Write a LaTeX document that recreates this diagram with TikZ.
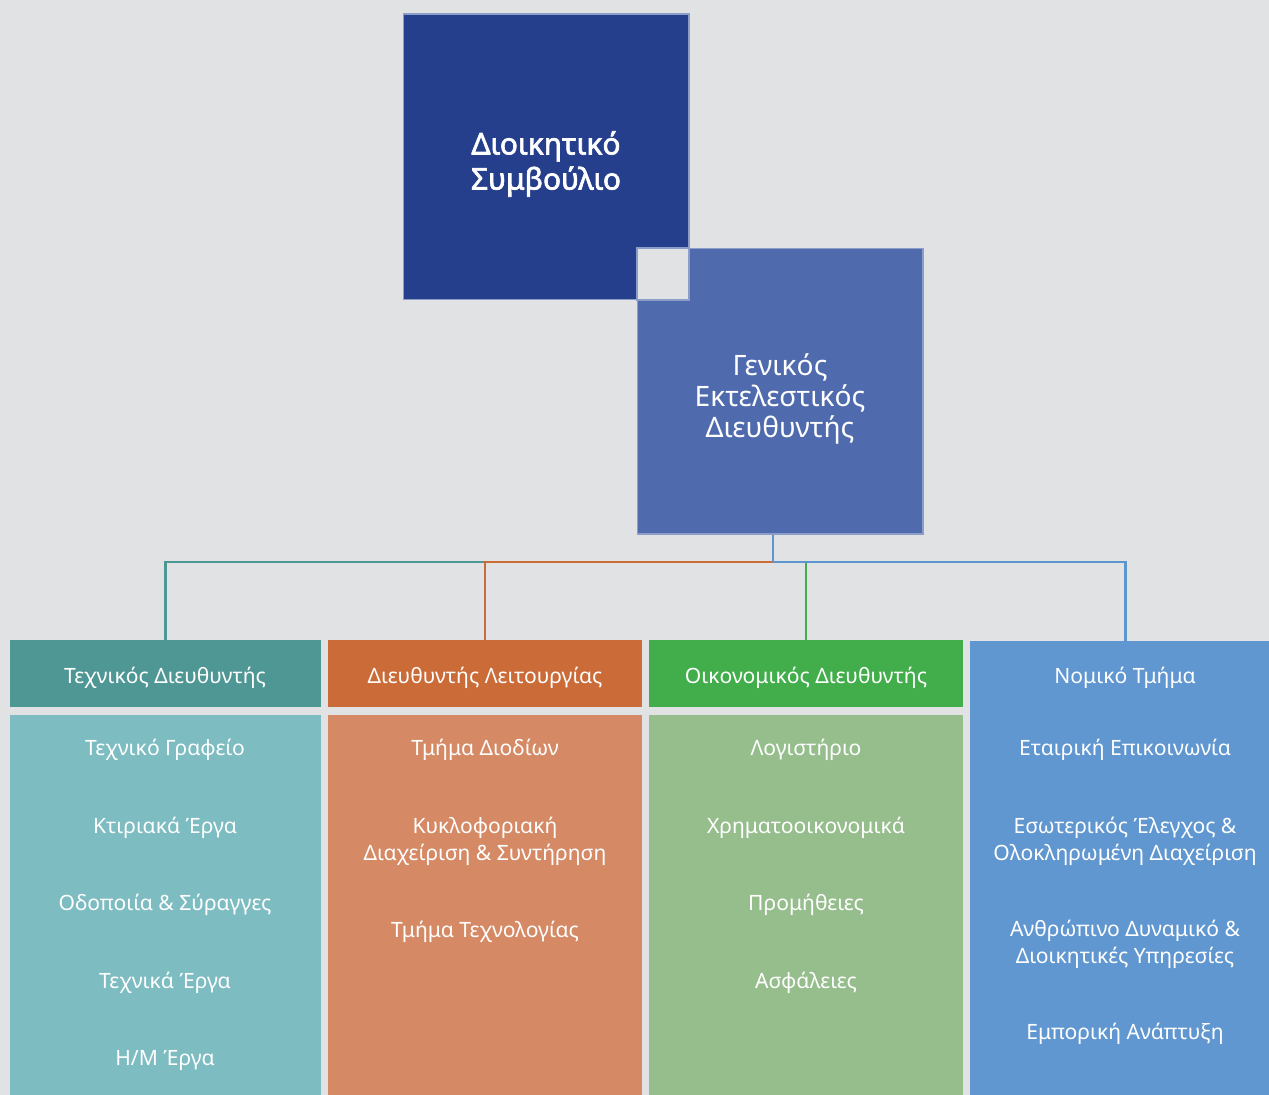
\documentclass[tikz,border=0pt]{standalone}
\usepackage{fontspec}
\setmainfont{Noto Sans}
\newfontfamily\heavyfont{Noto Sans}[FakeBold=2.2]

\definecolor{bg}{HTML}{E1E2E4}
\definecolor{edge}{HTML}{8C9DC9}
\definecolor{boardblue}{HTML}{253F8C}
\definecolor{gmblue}{HTML}{4F6AAD}
\definecolor{techhead}{HTML}{4F9795}
\definecolor{techbody}{HTML}{7DBCC1}
\definecolor{opshead}{HTML}{CB6B38}
\definecolor{opsbody}{HTML}{D58A65}
\definecolor{finhead}{HTML}{42AE4B}
\definecolor{finbody}{HTML}{96BE8D}
\definecolor{legal}{HTML}{6097D0}
\definecolor{legalline}{HTML}{5B97CE}

\tikzset{
  sq/.style={draw=edge,line width=.6pt,minimum width=5.72cm,minimum height=5.72cm,inner sep=0pt},
  big/.style={text=white,align=center,inner sep=0pt,font=\fontsize{16}{17.5}\selectfont},
  head/.style={minimum height=1.34cm,inner sep=0pt},
  body/.style={minimum height=7.7cm,inner sep=0pt},
  item/.style={text=white,align=center,inner sep=0pt,font=\fontsize{12}{15.4}\selectfont},
  link/.style={line width=1.3pt},
}

\begin{document}
\begin{tikzpicture}[x=.02cm,y=-.02cm]
\useasboundingbox (0,0) rectangle (1269,1095);
\clip (0,0) rectangle (1269,1095);
\fill[bg] (0,0) rectangle (1269,1095);

% top squares
\node[name=G,sq,fill=gmblue] at (780,391) {};
\node[name=B,sq,fill=boardblue] at (546,157) {};
\filldraw[fill=bg,draw=edge,line width=.6pt] (637,248) rectangle (689,300);
\node[name=B0,big,font=\fontsize{17}{20}\heavyfont] at (546,164) {Διοικητικό\\Συμβούλιο};
\node[name=G0,big] at (780,399) {Γενικός\\Εκτελεστικός\\Διευθυντής};

% headers
\node[name=T,head,fill=techhead,minimum width=6.22cm] at (165.5,673.5) {};
\node[name=L,head,fill=opshead,minimum width=6.28cm] at (485,673.5) {};
\node[name=F,head,fill=finhead,minimum width=6.28cm] at (806,673.5) {};
\node[name=N,body,fill=legal,minimum width=6.22cm,minimum height=9.18cm] at (1125.5,870.5) {};
\node[name=T0,item] at (165,678) {Τεχνικός Διευθυντής};
\node[name=L0,item] at (485,678) {Διευθυντής Λειτουργίας};
\node[name=F0,item] at (806,678) {Οικονομικός Διευθυντής};
\node[name=N0,item] at (1125,678) {Νομικό Τμήμα};

% bodies
\node[name=Tb,body,fill=techbody,minimum width=6.22cm] at (165.5,907.5) {};
\node[name=Lb,body,fill=opsbody,minimum width=6.28cm] at (485,907.5) {};
\node[name=Fb,body,fill=finbody,minimum width=6.28cm] at (806,907.5) {};

\node[name=T1,item] at (165,750) {Τεχνικό Γραφείο};
\node[name=T2,item] at (165,828) {Κτιριακά Έργα};
\node[name=T3,item] at (165,905) {Οδοποιία \& Σύραγγες};
\node[name=T4,item] at (165,983) {Τεχνικά Έργα};
\node[name=T5,item] at (165,1060) {Η/Μ Έργα};

\node[name=L1,item] at (485,750) {Τμήμα Διοδίων};
\node[name=L2,item] at (485,841.5) {Κυκλοφοριακή\\Διαχείριση \& Συντήρηση};
\node[name=L3,item] at (485,932) {Τμήμα Τεχνολογίας};

\node[name=F1,item] at (806,750) {Λογιστήριο};
\node[name=F2,item] at (806,828) {Χρηματοοικονομικά};
\node[name=F3,item] at (806,905) {Προμήθειες};
\node[name=F4,item] at (806,983) {Ασφάλειες};

\node[name=N1,item] at (1125,750) {Εταιρική Επικοινωνία};
\node[name=N2,item] at (1125,841.5) {Εσωτερικός Έλεγχος \&\\Ολοκληρωμένη Διαχείριση};
\node[name=N3,item] at (1125,944.5) {Ανθρώπινο Δυναμικό \&\\Διοικητικές Υπηρεσίες};
\node[name=N4,item] at (1125,1034) {Εμπορική Ανάπτυξη};

% connectors
\coordinate (H) at (773,562);
\draw[link,techhead] (H) -| (T.north);
\draw[link,opshead] (H) -| (L.north);
\draw[link,finhead] (H) -| (F.north);
\draw[link,legalline] (H) -| (N.north);
\draw[link,legalline] (G.south -| H) -- (H);
\end{tikzpicture}
\end{document}
